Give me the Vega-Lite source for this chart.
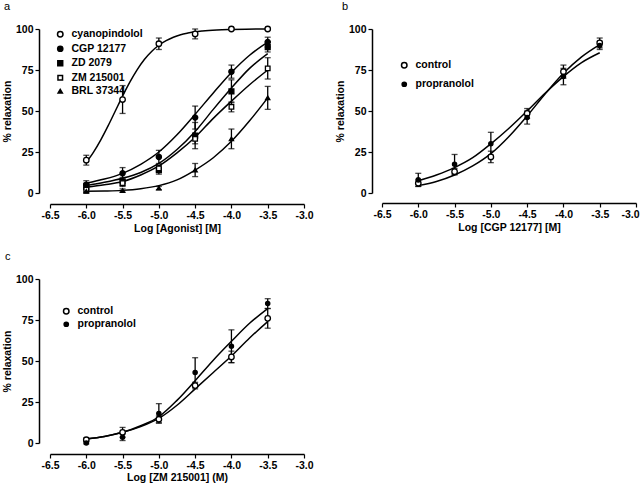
{
  "$schema": "https://vega.github.io/schema/vega-lite/v6.json",
  "background": "white",
  "padding": {"left": 2, "top": 0, "right": 0, "bottom": 0},
  "columns": 2,
  "bounds": "flush",
  "spacing": {"row": 86, "column": 78},
  "resolve": {"scale": {"x": "independent", "y": "independent", "shape": "independent", "fill": "independent", "size": "independent"}, "legend": {"shape": "independent", "fill": "independent", "size": "independent"}},
  "config": {
    "view": {"stroke": null},
    "font": "Liberation Sans Narrow, Liberation Sans",
    "axis": {"domainColor": "black", "domainWidth": 1.5, "tickColor": "black", "tickWidth": 1.2, "tickSize": 4, "labelColor": "black", "titleColor": "black", "labelFont": "Liberation Sans Narrow, Liberation Sans", "titleFont": "Liberation Sans Narrow, Liberation Sans", "labelFontWeight": "bold", "titleFontWeight": "bold", "labelFontSize": 10.5, "titleFontSize": 10.5, "grid": false, "labelPadding": 2, "titlePadding": 3, "labelFlush": false, "labelOverlap": false},
    "legend": {"labelFont": "Liberation Sans Narrow, Liberation Sans", "labelFontWeight": "bold", "labelFontSize": 10.5, "labelColor": "black"},
    "title": {"font": "Liberation Sans", "fontWeight": "normal", "fontSize": 11, "color": "black", "anchor": "start", "frame": "group"}
  },
  "datasets": {
    "pts": [
      {"p": "a", "s": "cyanopindolol", "x": -6.0, "y": 20, "e": 3},
      {"p": "a", "s": "cyanopindolol", "x": -5.5, "y": 57, "e": 8.5},
      {"p": "a", "s": "cyanopindolol", "x": -5.0, "y": 91, "e": 3.5},
      {"p": "a", "s": "cyanopindolol", "x": -4.5, "y": 97, "e": 3},
      {"p": "a", "s": "cyanopindolol", "x": -4.0, "y": 100, "e": 0.5},
      {"p": "a", "s": "cyanopindolol", "x": -3.5, "y": 100, "e": 0.5},
      {"p": "a", "s": "CGP 12177", "x": -6.0, "y": 5, "e": 2.5},
      {"p": "a", "s": "CGP 12177", "x": -5.5, "y": 12, "e": 3.5},
      {"p": "a", "s": "CGP 12177", "x": -5.0, "y": 22, "e": 4},
      {"p": "a", "s": "CGP 12177", "x": -4.5, "y": 46, "e": 7},
      {"p": "a", "s": "CGP 12177", "x": -4.0, "y": 74, "e": 4},
      {"p": "a", "s": "CGP 12177", "x": -3.5, "y": 92, "e": 3},
      {"p": "a", "s": "ZD 2079", "x": -6.0, "y": 4, "e": 2},
      {"p": "a", "s": "ZD 2079", "x": -5.5, "y": 7, "e": 2.5},
      {"p": "a", "s": "ZD 2079", "x": -5.0, "y": 14, "e": 2.5},
      {"p": "a", "s": "ZD 2079", "x": -4.5, "y": 35, "e": 8},
      {"p": "a", "s": "ZD 2079", "x": -4.0, "y": 62, "e": 7},
      {"p": "a", "s": "ZD 2079", "x": -3.5, "y": 89, "e": 3},
      {"p": "a", "s": "ZM 215001", "x": -6.0, "y": 2, "e": 1.5},
      {"p": "a", "s": "ZM 215001", "x": -5.5, "y": 6, "e": 2},
      {"p": "a", "s": "ZM 215001", "x": -5.0, "y": 15, "e": 2},
      {"p": "a", "s": "ZM 215001", "x": -4.5, "y": 33, "e": 3},
      {"p": "a", "s": "ZM 215001", "x": -4.0, "y": 52.5, "e": 3},
      {"p": "a", "s": "ZM 215001", "x": -3.5, "y": 76, "e": 6.5},
      {"p": "a", "s": "BRL 37344", "x": -6.0, "y": 1, "e": 1},
      {"p": "a", "s": "BRL 37344", "x": -5.5, "y": 1.5, "e": 1},
      {"p": "a", "s": "BRL 37344", "x": -5.0, "y": 3, "e": 1},
      {"p": "a", "s": "BRL 37344", "x": -4.5, "y": 14, "e": 4},
      {"p": "a", "s": "BRL 37344", "x": -4.0, "y": 33, "e": 6},
      {"p": "a", "s": "BRL 37344", "x": -3.5, "y": 58, "e": 7},
      {"p": "b", "s": "control", "x": -6.0, "y": 6, "e": 2},
      {"p": "b", "s": "control", "x": -5.5, "y": 13, "e": 2},
      {"p": "b", "s": "control", "x": -5.0, "y": 22, "e": 3.5},
      {"p": "b", "s": "control", "x": -4.5, "y": 48.5, "e": 3},
      {"p": "b", "s": "control", "x": -4.0, "y": 74, "e": 4},
      {"p": "b", "s": "control", "x": -3.5, "y": 91.5, "e": 3},
      {"p": "b", "s": "propranolol", "x": -6.0, "y": 8, "e": 4},
      {"p": "b", "s": "propranolol", "x": -5.5, "y": 17.5, "e": 6},
      {"p": "b", "s": "propranolol", "x": -5.0, "y": 30, "e": 7},
      {"p": "b", "s": "propranolol", "x": -4.5, "y": 46, "e": 4},
      {"p": "b", "s": "propranolol", "x": -4.0, "y": 71, "e": 5},
      {"p": "b", "s": "propranolol", "x": -3.5, "y": 90, "e": 2.5},
      {"p": "c", "s": "control", "x": -6.0, "y": 2, "e": 1},
      {"p": "c", "s": "control", "x": -5.5, "y": 6.5, "e": 3},
      {"p": "c", "s": "control", "x": -5.0, "y": 14.5, "e": 2},
      {"p": "c", "s": "control", "x": -4.5, "y": 35, "e": 2},
      {"p": "c", "s": "control", "x": -4.0, "y": 52.5, "e": 3.5},
      {"p": "c", "s": "control", "x": -3.5, "y": 76, "e": 6},
      {"p": "c", "s": "propranolol", "x": -6.0, "y": 0, "e": 0.5},
      {"p": "c", "s": "propranolol", "x": -5.5, "y": 3.5, "e": 2},
      {"p": "c", "s": "propranolol", "x": -5.0, "y": 18, "e": 6},
      {"p": "c", "s": "propranolol", "x": -4.5, "y": 43, "e": 9},
      {"p": "c", "s": "propranolol", "x": -4.0, "y": 59, "e": 10},
      {"p": "c", "s": "propranolol", "x": -3.5, "y": 85, "e": 3}
    ],
    "curves": [
      {"p": "a", "s": "cyanopindolol", "x": -6.0, "y": 18.6},
      {"p": "a", "s": "cyanopindolol", "x": -5.9, "y": 24.9},
      {"p": "a", "s": "cyanopindolol", "x": -5.8, "y": 32.4},
      {"p": "a", "s": "cyanopindolol", "x": -5.7, "y": 40.9},
      {"p": "a", "s": "cyanopindolol", "x": -5.6, "y": 50},
      {"p": "a", "s": "cyanopindolol", "x": -5.5, "y": 59.1},
      {"p": "a", "s": "cyanopindolol", "x": -5.4, "y": 67.6},
      {"p": "a", "s": "cyanopindolol", "x": -5.3, "y": 75.1},
      {"p": "a", "s": "cyanopindolol", "x": -5.2, "y": 81.4},
      {"p": "a", "s": "cyanopindolol", "x": -5.1, "y": 86.3},
      {"p": "a", "s": "cyanopindolol", "x": -5.0, "y": 90.1},
      {"p": "a", "s": "cyanopindolol", "x": -4.9, "y": 92.9},
      {"p": "a", "s": "cyanopindolol", "x": -4.8, "y": 95.0},
      {"p": "a", "s": "cyanopindolol", "x": -4.7, "y": 96.5},
      {"p": "a", "s": "cyanopindolol", "x": -4.6, "y": 97.5},
      {"p": "a", "s": "cyanopindolol", "x": -4.5, "y": 98.3},
      {"p": "a", "s": "cyanopindolol", "x": -4.4, "y": 98.8},
      {"p": "a", "s": "cyanopindolol", "x": -4.2, "y": 99.4},
      {"p": "a", "s": "cyanopindolol", "x": -4.0, "y": 99.7},
      {"p": "a", "s": "cyanopindolol", "x": -3.8, "y": 99.9},
      {"p": "a", "s": "cyanopindolol", "x": -3.5, "y": 100},
      {"p": "a", "s": "CGP 12177", "x": -6.0, "y": 6},
      {"p": "a", "s": "CGP 12177", "x": -5.75, "y": 8.5},
      {"p": "a", "s": "CGP 12177", "x": -5.5, "y": 12},
      {"p": "a", "s": "CGP 12177", "x": -5.25, "y": 17.5},
      {"p": "a", "s": "CGP 12177", "x": -5.0, "y": 25},
      {"p": "a", "s": "CGP 12177", "x": -4.75, "y": 35.5},
      {"p": "a", "s": "CGP 12177", "x": -4.5, "y": 48},
      {"p": "a", "s": "CGP 12177", "x": -4.25, "y": 61},
      {"p": "a", "s": "CGP 12177", "x": -4.0, "y": 73.5},
      {"p": "a", "s": "CGP 12177", "x": -3.75, "y": 84},
      {"p": "a", "s": "CGP 12177", "x": -3.5, "y": 92},
      {"p": "a", "s": "ZD 2079", "x": -6.0, "y": 4.5},
      {"p": "a", "s": "ZD 2079", "x": -5.75, "y": 6.5},
      {"p": "a", "s": "ZD 2079", "x": -5.5, "y": 9},
      {"p": "a", "s": "ZD 2079", "x": -5.25, "y": 12.5},
      {"p": "a", "s": "ZD 2079", "x": -5.0, "y": 18},
      {"p": "a", "s": "ZD 2079", "x": -4.75, "y": 26.5},
      {"p": "a", "s": "ZD 2079", "x": -4.5, "y": 37.5},
      {"p": "a", "s": "ZD 2079", "x": -4.25, "y": 51},
      {"p": "a", "s": "ZD 2079", "x": -4.0, "y": 64},
      {"p": "a", "s": "ZD 2079", "x": -3.75, "y": 76},
      {"p": "a", "s": "ZD 2079", "x": -3.5, "y": 85},
      {"p": "a", "s": "ZM 215001", "x": -6.0, "y": 3.5},
      {"p": "a", "s": "ZM 215001", "x": -5.75, "y": 5},
      {"p": "a", "s": "ZM 215001", "x": -5.5, "y": 7},
      {"p": "a", "s": "ZM 215001", "x": -5.25, "y": 11},
      {"p": "a", "s": "ZM 215001", "x": -5.0, "y": 16.5},
      {"p": "a", "s": "ZM 215001", "x": -4.75, "y": 24.5},
      {"p": "a", "s": "ZM 215001", "x": -4.5, "y": 34},
      {"p": "a", "s": "ZM 215001", "x": -4.25, "y": 45.5},
      {"p": "a", "s": "ZM 215001", "x": -4.0, "y": 56},
      {"p": "a", "s": "ZM 215001", "x": -3.75, "y": 66},
      {"p": "a", "s": "ZM 215001", "x": -3.5, "y": 75},
      {"p": "a", "s": "BRL 37344", "x": -6.0, "y": 1},
      {"p": "a", "s": "BRL 37344", "x": -5.75, "y": 1.2},
      {"p": "a", "s": "BRL 37344", "x": -5.5, "y": 1.6},
      {"p": "a", "s": "BRL 37344", "x": -5.25, "y": 2.6},
      {"p": "a", "s": "BRL 37344", "x": -5.0, "y": 4.5},
      {"p": "a", "s": "BRL 37344", "x": -4.75, "y": 8},
      {"p": "a", "s": "BRL 37344", "x": -4.5, "y": 14},
      {"p": "a", "s": "BRL 37344", "x": -4.25, "y": 21.5},
      {"p": "a", "s": "BRL 37344", "x": -4.0, "y": 31.5},
      {"p": "a", "s": "BRL 37344", "x": -3.75, "y": 44},
      {"p": "a", "s": "BRL 37344", "x": -3.5, "y": 58},
      {"p": "b", "s": "control", "x": -6.0, "y": 4.5},
      {"p": "b", "s": "control", "x": -5.75, "y": 7},
      {"p": "b", "s": "control", "x": -5.5, "y": 11},
      {"p": "b", "s": "control", "x": -5.25, "y": 16.5},
      {"p": "b", "s": "control", "x": -5.0, "y": 24},
      {"p": "b", "s": "control", "x": -4.75, "y": 34.5},
      {"p": "b", "s": "control", "x": -4.5, "y": 47},
      {"p": "b", "s": "control", "x": -4.25, "y": 60.5},
      {"p": "b", "s": "control", "x": -4.0, "y": 73},
      {"p": "b", "s": "control", "x": -3.75, "y": 83},
      {"p": "b", "s": "control", "x": -3.5, "y": 90.5},
      {"p": "b", "s": "propranolol", "x": -6.0, "y": 7.5},
      {"p": "b", "s": "propranolol", "x": -5.75, "y": 11},
      {"p": "b", "s": "propranolol", "x": -5.5, "y": 15.5},
      {"p": "b", "s": "propranolol", "x": -5.25, "y": 21.5},
      {"p": "b", "s": "propranolol", "x": -5.0, "y": 30},
      {"p": "b", "s": "propranolol", "x": -4.75, "y": 39.5},
      {"p": "b", "s": "propranolol", "x": -4.5, "y": 50},
      {"p": "b", "s": "propranolol", "x": -4.25, "y": 61},
      {"p": "b", "s": "propranolol", "x": -4.0, "y": 71},
      {"p": "b", "s": "propranolol", "x": -3.75, "y": 79.5},
      {"p": "b", "s": "propranolol", "x": -3.5, "y": 85.5},
      {"p": "c", "s": "control", "x": -6.0, "y": 2.5},
      {"p": "c", "s": "control", "x": -5.75, "y": 4},
      {"p": "c", "s": "control", "x": -5.5, "y": 6.5},
      {"p": "c", "s": "control", "x": -5.25, "y": 10},
      {"p": "c", "s": "control", "x": -5.0, "y": 15},
      {"p": "c", "s": "control", "x": -4.75, "y": 23},
      {"p": "c", "s": "control", "x": -4.5, "y": 33},
      {"p": "c", "s": "control", "x": -4.25, "y": 43},
      {"p": "c", "s": "control", "x": -4.0, "y": 53},
      {"p": "c", "s": "control", "x": -3.75, "y": 64},
      {"p": "c", "s": "control", "x": -3.5, "y": 74},
      {"p": "c", "s": "propranolol", "x": -6.0, "y": 2.5},
      {"p": "c", "s": "propranolol", "x": -5.75, "y": 4},
      {"p": "c", "s": "propranolol", "x": -5.5, "y": 6.5},
      {"p": "c", "s": "propranolol", "x": -5.25, "y": 10.5},
      {"p": "c", "s": "propranolol", "x": -5.0, "y": 16},
      {"p": "c", "s": "propranolol", "x": -4.75, "y": 26},
      {"p": "c", "s": "propranolol", "x": -4.5, "y": 38},
      {"p": "c", "s": "propranolol", "x": -4.25, "y": 50.5},
      {"p": "c", "s": "propranolol", "x": -4.0, "y": 62},
      {"p": "c", "s": "propranolol", "x": -3.75, "y": 73},
      {"p": "c", "s": "propranolol", "x": -3.5, "y": 82}
    ]
  },
  "concat": [
    {
      "width": 254, "height": 164,
      "title": {"text": "a", "dx": -46, "offset": 12},
      "encoding": {
        "x": {"field": "x", "type": "quantitative", "scale": {"domain": [-6.5, -3.0], "nice": false, "zero": false},
              "axis": {"values": [-6.5, -6, -5.5, -5, -4.5, -4, -3.5, -3], "labelOverlap": false, "labelExpr": "datum.value < 0 ? '-' + format(-datum.value, '.1f') : format(datum.value, '.1f')", "title": "Log [Agonist] [M]", "offset": 11}},
        "y": {"field": "y", "type": "quantitative", "scale": {"domain": [0, 100], "nice": false},
              "axis": {"values": [0, 25, 50, 75, 100], "labelOverlap": false, "format": "d", "title": "% relaxation", "offset": 11}}
      },
      "layer": [
        {
          "data": {"name": "curves"},
          "transform": [{"filter": "datum.p == 'a'"}],
          "mark": {"type": "line", "interpolate": "monotone", "color": "black", "strokeWidth": 1.5},
          "encoding": {"detail": {"field": "s"}}
        },
        {
          "data": {"name": "pts"},
          "transform": [{"filter": "datum.p == 'a'"}],
          "mark": {"type": "errorbar", "ticks": true, "size": 6, "thickness": 1.3, "color": "black"},
          "encoding": {"yError": {"field": "e"}}
        },
        {
          "data": {"name": "pts"},
          "transform": [{"filter": "datum.p == 'a'"}],
          "mark": {"type": "point", "stroke": "black", "strokeWidth": 1.3, "opacity": 1},
          "encoding": {
            "shape": {"field": "s", "type": "nominal", "scale": {"domain": ["cyanopindolol", "CGP 12177", "ZD 2079", "ZM 215001", "BRL 37344"], "range": ["circle", "circle", "square", "square", "triangle-up"]}, "legend": {"orient": "none", "legendX": 5, "legendY": 0, "title": null, "rowPadding": 2.5, "labelOffset": 6, "encode": {"symbols": {"update": {"stroke": {"value": "black"}, "strokeWidth": {"value": 1.3}}}}}},
            "fill": {"field": "s", "type": "nominal", "scale": {"domain": ["cyanopindolol", "CGP 12177", "ZD 2079", "ZM 215001", "BRL 37344"], "range": ["white", "black", "black", "white", "black"]}, "legend": {"orient": "none", "legendX": 5, "legendY": 0, "title": null, "rowPadding": 2.5, "labelOffset": 6, "encode": {"symbols": {"update": {"stroke": {"value": "black"}, "strokeWidth": {"value": 1.3}}}}}},
            "size": {"field": "s", "type": "nominal", "scale": {"domain": ["cyanopindolol", "CGP 12177", "ZD 2079", "ZM 215001", "BRL 37344"], "range": [30, 18, 24, 26, 26]}, "legend": {"orient": "none", "legendX": 5, "legendY": 0, "title": null, "rowPadding": 2.5, "labelOffset": 6, "encode": {"symbols": {"update": {"stroke": {"value": "black"}, "strokeWidth": {"value": 1.3}}}}}}
          }
        }
      ]
    },
    {
      "width": 254, "height": 164,
      "title": {"text": "b", "dx": -40, "offset": 12},
      "encoding": {
        "x": {"field": "x", "type": "quantitative", "scale": {"domain": [-6.5, -3.0], "nice": false, "zero": false},
              "axis": {"values": [-6.5, -6, -5.5, -5, -4.5, -4, -3.5, -3], "labelOverlap": false, "labelOffset": {"condition": {"test": "datum.value == -3", "value": -6}, "value": 0}, "labelExpr": "datum.value < 0 ? '-' + format(-datum.value, '.1f') : format(datum.value, '.1f')", "title": "Log [CGP 12177] [M]", "offset": 10}},
        "y": {"field": "y", "type": "quantitative", "scale": {"domain": [0, 100], "nice": false},
              "axis": {"values": [0, 25, 50, 75, 100], "labelOverlap": false, "format": "d", "title": "% relaxation", "offset": 10}}
      },
      "layer": [
        {
          "data": {"name": "curves"},
          "transform": [{"filter": "datum.p == 'b'"}],
          "mark": {"type": "line", "interpolate": "monotone", "color": "black", "strokeWidth": 1.5},
          "encoding": {"detail": {"field": "s"}}
        },
        {
          "data": {"name": "pts"},
          "transform": [{"filter": "datum.p == 'b'"}],
          "mark": {"type": "errorbar", "ticks": true, "size": 6, "thickness": 1.3, "color": "black"},
          "encoding": {"yError": {"field": "e"}}
        },
        {
          "data": {"name": "pts"},
          "transform": [{"filter": "datum.p == 'b'"}],
          "mark": {"type": "point", "stroke": "black", "strokeWidth": 1.3, "opacity": 1},
          "encoding": {
            "shape": {"field": "s", "type": "nominal", "scale": {"domain": ["control", "propranolol"], "range": ["circle", "circle"]}, "legend": {"orient": "none", "legendX": 17, "legendY": 31, "title": null, "rowPadding": 8, "labelOffset": 6, "encode": {"symbols": {"update": {"stroke": {"value": "black"}, "strokeWidth": {"value": 1.3}}}}}},
            "fill": {"field": "s", "type": "nominal", "scale": {"domain": ["control", "propranolol"], "range": ["white", "black"]}, "legend": {"orient": "none", "legendX": 17, "legendY": 31, "title": null, "rowPadding": 8, "labelOffset": 6, "encode": {"symbols": {"update": {"stroke": {"value": "black"}, "strokeWidth": {"value": 1.3}}}}}},
            "size": {"field": "s", "type": "nominal", "scale": {"domain": ["control", "propranolol"], "range": [30, 18]}, "legend": {"orient": "none", "legendX": 17, "legendY": 31, "title": null, "rowPadding": 8, "labelOffset": 6, "encode": {"symbols": {"update": {"stroke": {"value": "black"}, "strokeWidth": {"value": 1.3}}}}}}
          }
        }
      ]
    },
    {
      "width": 254, "height": 164,
      "title": {"text": "c", "dx": -45, "offset": 12},
      "encoding": {
        "x": {"field": "x", "type": "quantitative", "scale": {"domain": [-6.5, -3.0], "nice": false, "zero": false},
              "axis": {"values": [-6.5, -6, -5.5, -5, -4.5, -4, -3.5, -3], "labelOverlap": false, "labelExpr": "datum.value < 0 ? '-' + format(-datum.value, '.1f') : format(datum.value, '.1f')", "title": "Log [ZM 215001] (M)", "offset": 11, "titlePadding": 2}},
        "y": {"field": "y", "type": "quantitative", "scale": {"domain": [0, 100], "nice": false},
              "axis": {"values": [0, 25, 50, 75, 100], "labelOverlap": false, "format": "d", "title": "% relaxation", "offset": 11}}
      },
      "layer": [
        {
          "data": {"name": "curves"},
          "transform": [{"filter": "datum.p == 'c'"}],
          "mark": {"type": "line", "interpolate": "monotone", "color": "black", "strokeWidth": 1.5},
          "encoding": {"detail": {"field": "s"}}
        },
        {
          "data": {"name": "pts"},
          "transform": [{"filter": "datum.p == 'c'"}],
          "mark": {"type": "errorbar", "ticks": true, "size": 6, "thickness": 1.3, "color": "black"},
          "encoding": {"yError": {"field": "e"}}
        },
        {
          "data": {"name": "pts"},
          "transform": [{"filter": "datum.p == 'c'"}],
          "mark": {"type": "point", "stroke": "black", "strokeWidth": 1.3, "opacity": 1},
          "encoding": {
            "shape": {"field": "s", "type": "nominal", "scale": {"domain": ["control", "propranolol"], "range": ["circle", "circle"]}, "legend": {"orient": "none", "legendX": 11, "legendY": 27, "title": null, "rowPadding": 2, "labelOffset": 6, "encode": {"symbols": {"update": {"stroke": {"value": "black"}, "strokeWidth": {"value": 1.3}}}}}},
            "fill": {"field": "s", "type": "nominal", "scale": {"domain": ["control", "propranolol"], "range": ["white", "black"]}, "legend": {"orient": "none", "legendX": 11, "legendY": 27, "title": null, "rowPadding": 2, "labelOffset": 6, "encode": {"symbols": {"update": {"stroke": {"value": "black"}, "strokeWidth": {"value": 1.3}}}}}},
            "size": {"field": "s", "type": "nominal", "scale": {"domain": ["control", "propranolol"], "range": [30, 18]}, "legend": {"orient": "none", "legendX": 11, "legendY": 27, "title": null, "rowPadding": 2, "labelOffset": 6, "encode": {"symbols": {"update": {"stroke": {"value": "black"}, "strokeWidth": {"value": 1.3}}}}}}
          }
        }
      ]
    }
  ]
}
